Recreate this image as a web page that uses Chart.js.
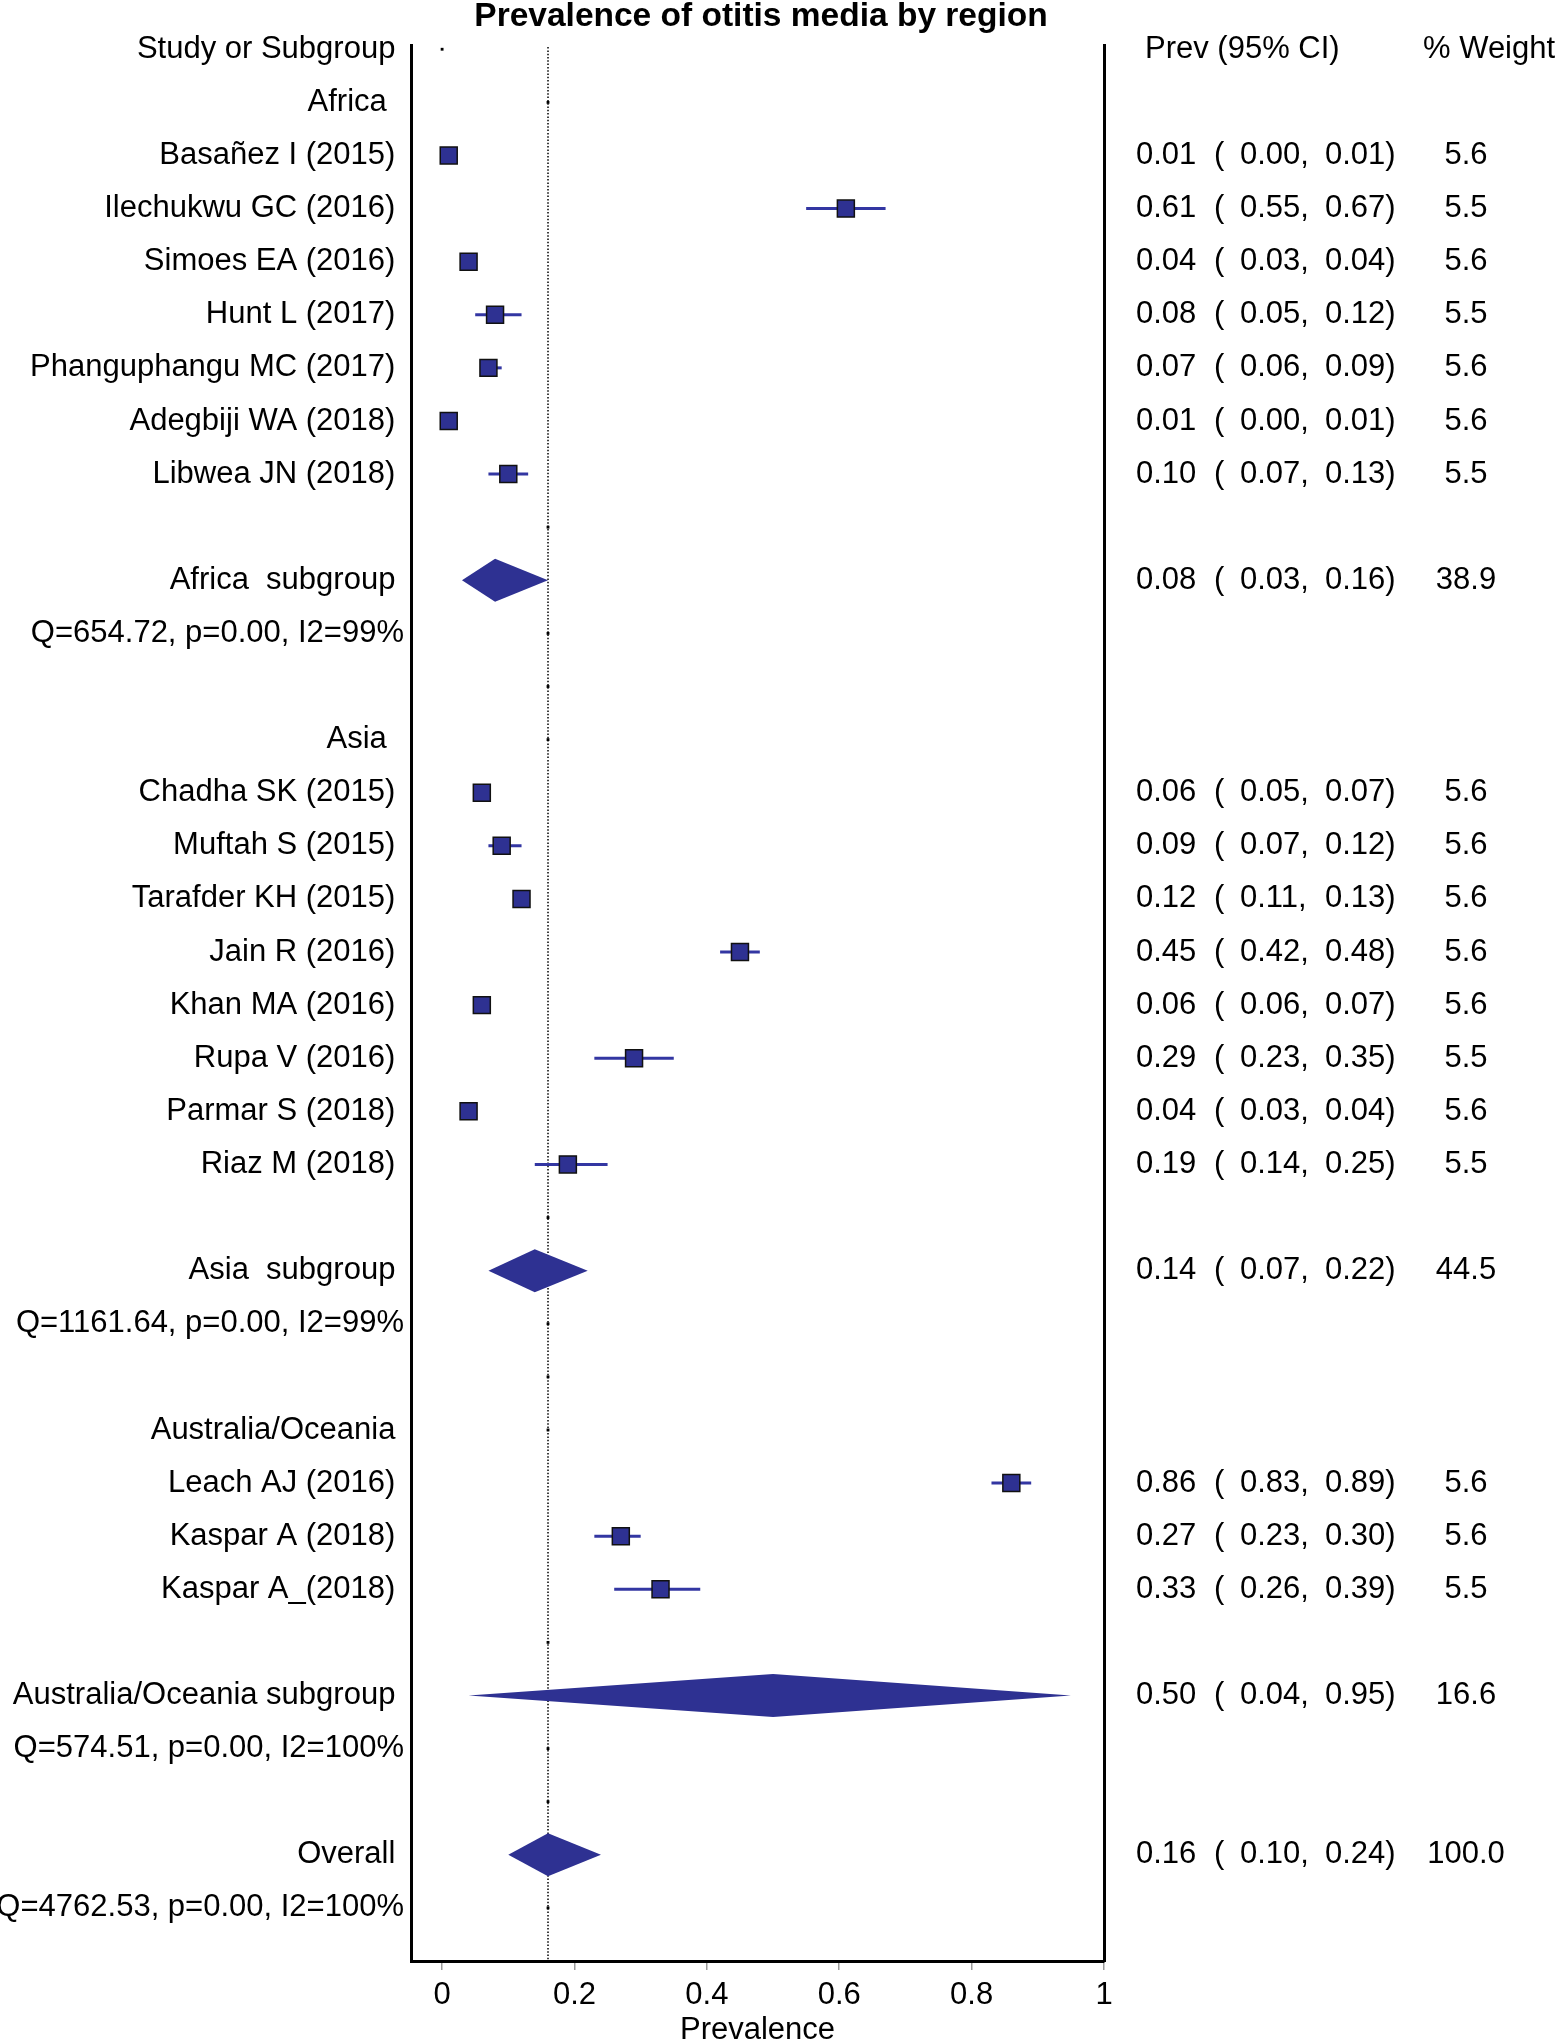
<!DOCTYPE html>
<html>
<head>
<meta charset="utf-8">
<title>Prevalence of otitis media by region</title>
<script src="https://cdn.jsdelivr.net/npm/chart.js@4.4.1/dist/chart.umd.min.js"></script>
<style>
  html, body { margin: 0; padding: 0; background: #fff; }
  #wrap { width: 1556px; height: 2040px; position: relative; }
</style>
</head>
<body>
<div id="wrap"><canvas id="forest"></canvas></div>
<script>
// region headers as printed (short names carry an extra trailing space in the source plot)
const regionLabels = ["Africa ", "Asia ", "Australia/Oceania"];

const studyNames = [
  "Basañez I (2015)", "Ilechukwu GC (2016)", "Simoes EA (2016)", "Hunt L (2017)",
  "Phanguphangu MC (2017)", "Adegbiji WA (2018)", "Libwea JN (2018)",
  "Chadha SK (2015)", "Muftah S (2015)", "Tarafder KH (2015)", "Jain R (2016)",
  "Khan MA (2016)", "Rupa V (2016)", "Parmar S (2018)", "Riaz M (2018)",
  "Leach AJ (2016)", "Kaspar A (2018)", "Kaspar A_(2018)"
];
const studyRegion = [0, 0, 0, 0, 0, 0, 0, 1, 1, 1, 1, 1, 1, 1, 1, 2, 2, 2];
const studyPrev   = [0.01, 0.61, 0.04, 0.08, 0.07, 0.01, 0.10, 0.06, 0.09, 0.12, 0.45, 0.06, 0.29, 0.04, 0.19, 0.86, 0.27, 0.33];
const studyLow    = [0.00, 0.55, 0.03, 0.05, 0.06, 0.00, 0.07, 0.05, 0.07, 0.11, 0.42, 0.06, 0.23, 0.03, 0.14, 0.83, 0.23, 0.26];
const studyHigh   = [0.01, 0.67, 0.04, 0.12, 0.09, 0.01, 0.13, 0.07, 0.12, 0.13, 0.48, 0.07, 0.35, 0.04, 0.25, 0.89, 0.30, 0.39];
const studyWeight = [5.6, 5.5, 5.6, 5.5, 5.6, 5.6, 5.5, 5.6, 5.6, 5.6, 5.6, 5.6, 5.5, 5.6, 5.5, 5.6, 5.6, 5.5];

const subgroupLabels = ["Africa  subgroup", "Asia  subgroup", "Australia/Oceania subgroup"];
const subgroupPrev   = [0.08, 0.14, 0.50];
const subgroupLow    = [0.03, 0.07, 0.04];
const subgroupHigh   = [0.16, 0.22, 0.95];
const subgroupWeight = [38.9, 44.5, 16.6];
const subgroupStats  = ["Q=654.72, p=0.00, I2=99%", "Q=1161.64, p=0.00, I2=99%", "Q=574.51, p=0.00, I2=100%"];

const overallPrev = 0.16, overallLow = 0.10, overallHigh = 0.24, overallWeight = 100.0;
const overallStats = "Q=4762.53, p=0.00, I2=100%";

const xTicks = [0, 0.2, 0.4, 0.6, 0.8, 1];

// one row per printed line, top to bottom
const rows = [{ label: "Study or Subgroup", kind: "header" }];
regionLabels.forEach((reg, g) => {
  rows.push({ label: reg, kind: "region" });
  studyNames.forEach((name, i) => {
    if (studyRegion[i] !== g) return;
    rows.push({ label: name, kind: "study", prev: studyPrev[i], low: studyLow[i], high: studyHigh[i], weight: studyWeight[i] });
  });
  rows.push({ label: "", kind: "blank" });
  rows.push({ label: subgroupLabels[g], kind: "pooled", prev: subgroupPrev[g], low: subgroupLow[g], high: subgroupHigh[g], weight: subgroupWeight[g] });
  rows.push({ label: subgroupStats[g], kind: "stats" });
  rows.push({ label: "", kind: "blank" });
});
rows.push({ label: "Overall", kind: "pooled", prev: overallPrev, low: overallLow, high: overallHigh, weight: overallWeight });
rows.push({ label: overallStats, kind: "stats" });

const BLUE = "#2E3192";
const FONT = '"Liberation Sans", Arial, Helvetica, sans-serif';
const TEXT_SIZE = 31;
Chart.defaults.font.family = FONT;
Chart.defaults.color = "#000";

const squares = [], ciSets = [], markers = [];
rows.forEach((r, i) => {
  if (r.kind === "study") {
    squares.push({ x: r.prev, y: i });
    ciSets.push({
      data: [{ x: r.low, y: i }, { x: r.high, y: i }],
      showLine: true, borderColor: "#3336A2", borderWidth: 3, pointRadius: 0
    });
  } else if (r.kind === "region" || r.kind === "blank" || r.kind === "stats") {
    markers.push({ x: overallPrev, y: i });
  } else if (r.kind === "header") {
    markers.push({ x: 0, y: i });
  }
});

const forestText = {
  id: "forestText",
  afterDatasetsDraw(chart) {
    const { ctx } = chart;
    const xs = chart.scales.x, ys = chart.scales.y;
    ctx.save();
    ctx.fillStyle = BLUE;
    rows.forEach((r, i) => {
      if (r.kind !== "pooled") return;
      const yc = ys.getPixelForValue(i), h = 21.5;
      ctx.beginPath();
      ctx.moveTo(xs.getPixelForValue(r.low), yc);
      ctx.lineTo(xs.getPixelForValue(r.prev), yc - h);
      ctx.lineTo(xs.getPixelForValue(r.high), yc);
      ctx.lineTo(xs.getPixelForValue(r.prev), yc + h);
      ctx.closePath();
      ctx.fill();
    });
    ctx.restore();
  },
  afterDraw(chart) {
    const { ctx } = chart;
    const ys = chart.scales.y;
    ctx.save();
    ctx.fillStyle = "#000";
    ctx.font = "bold 33.5px " + FONT;
    ctx.textAlign = "center";
    ctx.textBaseline = "alphabetic";
    ctx.fillText("Prevalence of otitis media by region", 761, 26);

    ctx.font = TEXT_SIZE + "px " + FONT;
    ctx.textBaseline = "middle";
    const y0 = ys.getPixelForValue(0);
    ctx.textAlign = "left";
    ctx.fillText("Prev (95% CI)", 1145, y0);
    ctx.fillText("% Weight", 1423, y0);
    rows.forEach((r, i) => {
      if (r.prev === undefined) return;
      const y = ys.getPixelForValue(i);
      ctx.textAlign = "left";
      ctx.fillText(r.prev.toFixed(2), 1136, y);
      ctx.fillText("(", 1214, y);
      ctx.fillText(r.low.toFixed(2) + ",", 1240, y);
      ctx.fillText(r.high.toFixed(2) + ")", 1325, y);
      ctx.textAlign = "center";
      ctx.fillText(r.weight.toFixed(1), 1466, y);
    });
    ctx.restore();
  }
};

new Chart(document.getElementById("forest"), {
  type: "scatter",
  data: {
    datasets: [
      {
        data: squares, pointStyle: "rect", pointRadius: 12,
        backgroundColor: BLUE, borderColor: "#111", borderWidth: 1.5
      },
      {
        data: markers, pointStyle: "rect", pointRadius: 2,
        backgroundColor: "#000", borderWidth: 0
      },
      ...ciSets,
      {
        data: [{ x: overallPrev, y: -0.04 }, { x: overallPrev, y: 36 }],
        showLine: true, borderColor: "#000", borderWidth: 1.5,
        borderDash: [1.5, 1.8], pointRadius: 0
      }
    ]
  },
  options: {
    responsive: true,
    maintainAspectRatio: false,
    animation: false,
    devicePixelRatio: 1,
    events: [],
    layout: { padding: { top: 45, left: 0, right: 0, bottom: 0 } },
    plugins: {
      legend: { display: false },
      tooltip: { enabled: false },
      title: { display: false }
    },
    scales: {
      x: {
        type: "linear",
        min: -0.047,
        max: 1,
        afterBuildTicks: s => { s.ticks = xTicks.map(v => ({ value: v })); },
        afterFit: s => { s.height = 79; },
        ticks: {
          callback: v => String(v),
          autoSkip: false, maxRotation: 0,
          font: { size: TEXT_SIZE }, color: "#000", padding: 7
        },
        grid: { drawOnChartArea: false, drawTicks: true, tickLength: 9, color: "#9a9a9a", lineWidth: 1.5 },
        border: { display: true, color: "#000", width: 3 },
        title: {
          display: true, text: "Prevalence", color: "#000",
          font: { size: TEXT_SIZE, lineHeight: 0.62 }, padding: 0
        }
      },
      y: {
        type: "linear",
        position: "left",
        reverse: true,
        min: -0.08,
        max: 36,
        afterBuildTicks: s => { s.ticks = rows.map((r, i) => ({ value: i })); },
        afterFit: s => { s.width = 411; },
        ticks: {
          callback: (v, i) => rows[i].kind === "stats" ? rows[i].label : rows[i].label + " ",
          autoSkip: false,
          font: { size: TEXT_SIZE }, color: "#000", padding: 7
        },
        grid: { display: false, drawTicks: false },
        border: { display: true, color: "#000", width: 3 }
      },
      y2: {
        type: "linear",
        position: "right",
        reverse: true,
        min: -0.08,
        max: 36,
        afterFit: s => { s.width = 452; },
        ticks: { display: false },
        grid: { display: false, drawTicks: false },
        border: { display: true, color: "#000", width: 3 }
      }
    }
  },
  plugins: [forestText]
});
</script>
</body>
</html>
